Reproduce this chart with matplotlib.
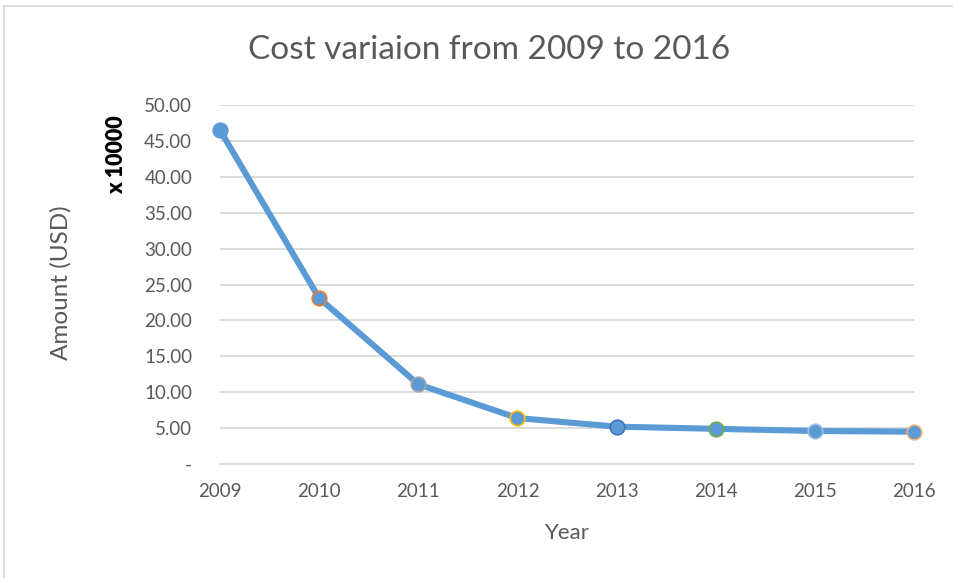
import matplotlib.pyplot as plt
from matplotlib.lines import Line2D

years = ['2009', '2010', '2011', '2012', '2013', '2014', '2015', '2016']
amounts = [46.5, 23.1, 11.1, 6.4, 5.2, 4.9, 4.6, 4.5]
edge_colors = ['#5B9BD5', '#ED7D31', '#A5A5A5', '#FFC000', '#4472C4', '#70AD47', '#9DC3E6', '#F4B183']
yticks = [0, 5, 10, 15, 20, 25, 30, 35, 40, 45, 50]
ytick_labels = ['-'] + ['%.2f' % v for v in yticks[1:]]

plt.rcParams['font.family'] = ['Lato', 'DejaVu Sans']
grey = '#595959'

fig = plt.figure(figsize=(9.54, 5.78), dpi=100)
ax = fig.add_axes([220 / 954, 1 - 464 / 578, 694 / 954, 359 / 578])

x = list(range(len(years)))
ax.plot(x, amounts, color='#5B9BD5', linewidth=4.4, zorder=3, solid_capstyle='round')
for xi, yi, ec in zip(x, amounts, edge_colors):
    ax.plot(xi, yi, 'o', markersize=10.5, markerfacecolor='#5B9BD5',
            markeredgecolor=ec, markeredgewidth=1.2, zorder=4)

ax.set_xlim(0, len(years) - 1)
ax.set_ylim(0, 50)
ax.set_yticks(yticks)
ax.set_yticklabels(ytick_labels)
ax.set_xticks(x)
ax.set_xticklabels(years)
ax.yaxis.grid(True, color='#D9D9D9', linewidth=1.3)
ax.set_axisbelow(True)
for s in ax.spines.values():
    s.set_visible(False)
ax.spines['bottom'].set_visible(True)
ax.spines['bottom'].set_color('#D9D9D9')
ax.spines['bottom'].set_linewidth(1.3)
ax.tick_params(length=0, labelsize=13.5, labelcolor=grey)
ax.tick_params(axis='x', pad=14)
ax.tick_params(axis='y', pad=20)
for ln in ax.lines:
    ln.set_clip_on(False)

fig.text(489 / 954, 1 - 50 / 578, 'Cost variaion from 2009 to 2016', fontsize=24,
         color=grey, ha='center', va='center')
fig.text(61 / 954, 1 - 283 / 578, 'Amount (USD)', fontsize=17.5, color=grey,
         rotation=90, ha='center', va='center')
fig.text(567 / 954, 1 - 533 / 578, 'Year', fontsize=16, color=grey,
         ha='center', va='center')
fig.text(117 / 954, 1 - 155 / 578, 'x 10000', fontsize=15.5, color='black',
         fontweight='heavy', rotation=90, ha='center', va='center')

# chart border
fig.add_artist(Line2D([4 / 954, 4 / 954], [0, 1 - 6 / 578], color='#D9D9D9', linewidth=1.2))
fig.add_artist(Line2D([4 / 954, 1], [1 - 6 / 578, 1 - 6 / 578], color='#D9D9D9', linewidth=1.2))

fig.savefig('out.png', dpi=100)
